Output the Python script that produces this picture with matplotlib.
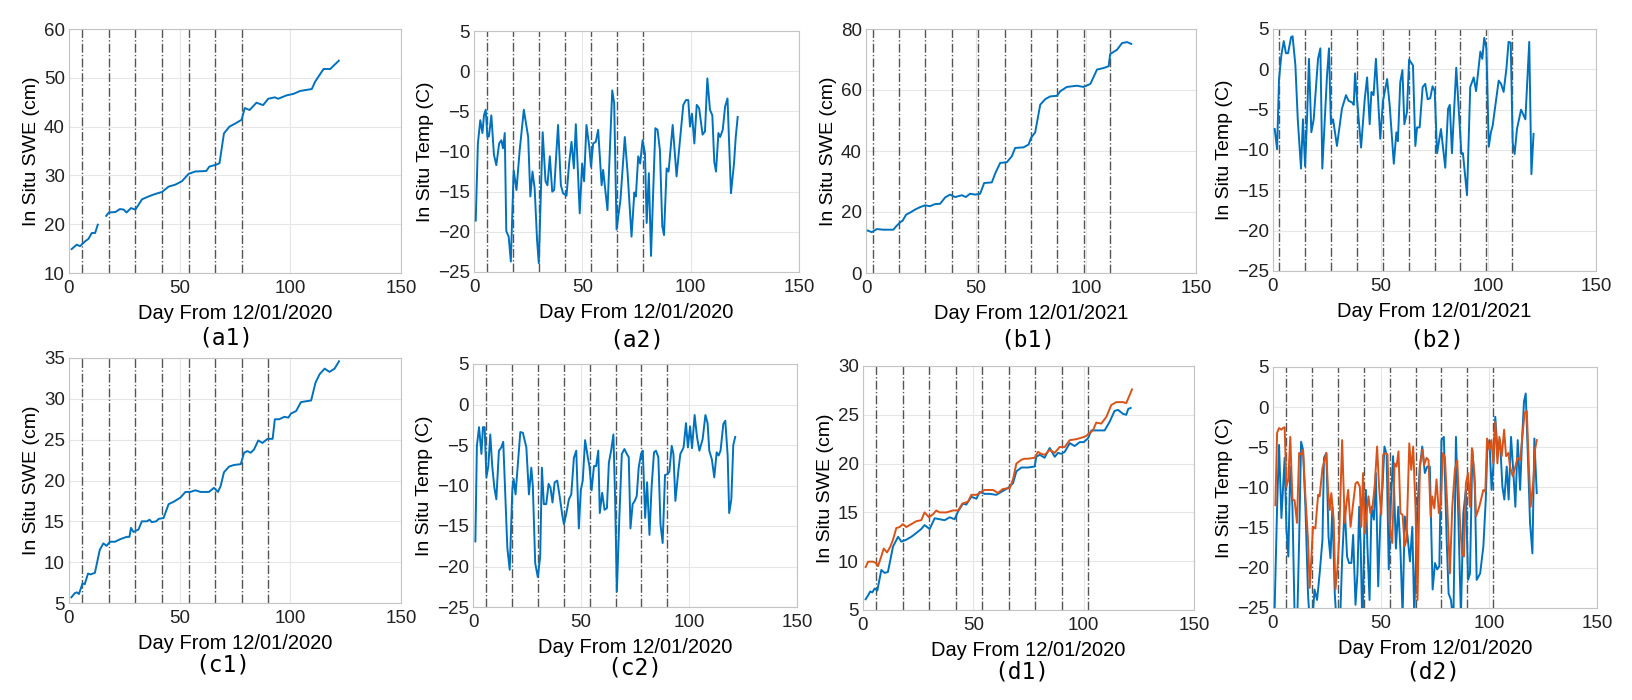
import numpy as np
import matplotlib
matplotlib.use("Agg")
import matplotlib.pyplot as plt

# ---- datos ----
a1_day = [1.2, 3.5, 5, 7.3, 8.8, 10.3, 11.8, 13, 15, 16.8, 18, 21, 23, 24.7, 26, 28, 30, 33, 36, 39, 42, 45, 48, 51,
          54, 57, 62, 63.4, 66.5, 68, 70, 72.5, 75, 78, 79.4, 81.6, 84.7, 87.7, 90, 93, 94.5, 98.3, 101.4, 104.4,
          109.7, 111.2, 115, 118, 121.9]
a1_swe = [14.9, 15.8, 15.5, 16.5, 17, 18.2, 18.2, 19.9, np.nan, 21.7, 22.4, 22.5, 23.1, 23, 22.4, 23.3, 23, 25.1,
          25.7, 26.2, 26.6, 27.7, 28.1, 28.8, 30.3, 30.8, 30.9, 31.8, 32.2, 32.5, 38.6, 40, 40.6, 41.4, 43.8, 43.4,
          44.9, 44.4, 45.7, 46, 45.7, 46.4, 46.7, 47.3, 47.7, 49.2, 51.8, 51.8, 53.5]

a2_day = [0.8, 1.8, 2.9, 3.9, 4.6, 5.4, 6.2, 6.9, 8, 9.2, 10.3, 11.6, 12.6, 13.4, 14.2, 14.9, 16, 17, 18.3, 19.6,
          21.1, 23, 25, 26, 27, 28, 29.1, 29.9, 31.7, 33, 33.9, 35, 36.1, 37, 38, 38.8, 40.1, 41.1, 42.7, 43.9, 45,
          46.1, 47, 48.8, 49.9, 50.8, 51.9, 53.2, 54, 55, 56.2, 57.3, 58.9, 59.6, 61.6, 63.8, 64.7, 65.8, 67.6,
          69.6, 70.9, 72.7, 74, 74.7, 75.8, 76.7, 77.8, 78.9, 79.7, 80.7, 81.7, 83.7, 84.7, 85.8, 86.9, 87.7, 88.9,
          89.8, 91.7, 93.5, 96.6, 97.8, 98.9, 99.7, 100.6, 101.7, 102.8, 103.9, 105.5, 106.6, 107.7, 108.9, 110,
          110.9, 111.7, 112.8, 113.6, 114.8, 115.9, 117, 118.6, 120, 120.8, 121.7]
a2_temp = [-18.6, -9.0, -6.1, -7.7, -5.5, -4.8, -8.2, -8.1, -5.5, -10.4, -11.7, -9.0, -8.6, -9.6, -7.7, -19.9,
           -20.6, -23.7, -12.3, -14.8, -9.8, -4.8, -8.2, -15.6, -12.5, -14.6, -21, -23.9, -7.6, -13.7, -14.2,
           -10.6, -15, -14.8, -10.2, -6.7, -14.2, -15.2, -15.5, -11.5, -8.8, -12.1, -6.6, -17.7, -11.5, -13.7,
           -6.7, -9.4, -11.9, -9, -8.8, -7.3, -14.2, -12.3, -17.3, -2.4, -4, -19.7, -16, -8.2, -12.7, -20.6,
           -15.1, -15.6, -10.6, -11.5, -8.6, -10.2, -18.9, -12.7, -23, -7.1, -7.3, -9.8, -19.3, -20.4, -12.1,
           -12.5, -6.7, -13.1, -4.2, -3.6, -3.6, -6.9, -5.3, -9, -4.2, -4.6, -7.9, -7.5, -0.9, -4.8, -5.5, -11.3,
           -12.5, -7.7, -8.2, -7.3, -4.4, -3.4, -15.2, -11.5, -8.2, -5.7]

b1_day = [0.8, 2.6, 4.9, 7.9, 10.9, 12.4, 13.7, 15.5, 16.7, 18.2, 20.5, 22.3, 24.6, 26.9, 29.1, 31.4, 33.7, 36,
          38.2, 40.5, 43.6, 45.4, 47.3, 49.6, 51.9, 53.7, 57.2, 58.7, 61, 64, 66.3, 67.8, 71.6, 73.9, 75, 76.9,
          79.2, 81.5, 83.7, 86.8, 88.3, 91.3, 95.9, 98.9, 102, 105, 108, 110.3, 111, 114.1, 116.4, 118.7, 120.6]
b1_swe = [13.9, 13.4, 14.4, 14.2, 14.2, 14.2, 15.3, 16.6, 17.2, 19.1, 20, 20.8, 21.6, 22.2, 21.9, 22.6, 22.7,
          24.8, 25.7, 24.9, 25.5, 24.9, 26, 25.7, 26, 29.5, 29.7, 32.6, 36.1, 36.3, 38.3, 41, 41.2, 42.1, 44.3,
          46.1, 55.2, 57, 57.9, 58.1, 59.6, 61, 61.4, 61, 62, 66.7, 67.2, 67.8, 71.8, 73.2, 75.4, 75.7, 75.1]

b2_day = [0.8, 1.9, 2.8, 3.9, 5, 6, 7, 8.4, 9.1, 10.4, 11.5, 13, 13.9, 14.9, 15.8, 16.7, 17.8, 18.9, 20.9, 22,
          22.9, 25.1, 26, 26.9, 27.9, 29.7, 32, 33.9, 35.1, 36.7, 37.5, 38.1, 39, 40.9, 42.6, 43.7, 44.9, 45.7,
          46.7, 47.8, 49.8, 51.1, 53, 54.2, 56.1, 57.3, 58, 59.1, 60.1, 61, 62.2, 63.2, 65, 66.1, 66.9, 68.1,
          69.5, 70.7, 71.8, 73, 74.1, 75.1, 76.2, 78, 80, 81.3, 82.1, 83.1, 85.1, 87.5, 88.2, 90.1, 91.6, 93.2,
          94.3, 96.3, 97.2, 98.1, 99.1, 100.2, 101.2, 102, 104.8, 105.9, 107.1, 108.4, 109.4, 110.4, 111.3, 112.2,
          113.3, 115.2, 117.2, 119, 120, 121]
b2_temp = [-7.4, -9.9, -1.2, 1.8, 3.5, 2, 2, 4, 4.1, 0.5, -6.2, -12.3, -6.2, -12, -6.2, 1.3, -7.8, -6.2, 1.3,
           2.6, -12.3, -0.7, 2.6, -6.8, -6.2, -9.5, -4.9, -3.2, -3.9, -4.1, -4.4, -0.5, -3.7, -9.7, -3.7, -1,
           -6.8, -2.8, -3.2, 1.3, -8.6, -3.9, -1.2, -4.5, -11.7, -7.8, -8.9, -1.6, -0.1, -6.8, -5.3, 1.2, 0.5,
           -9.5, -7.2, -7.2, -2.2, -1.8, -3.7, -3.6, -2.1, -2.7, -10.4, -7.4, -12.2, -4.9, -4.4, -10.4, 0.2,
           -10.5, -10.4, -15.6, -2.2, -1, -2.7, 2.2, 1.3, 3.9, 2.6, -9.6, -7.8, -7, -1.4, -1.8, -2.8, 0.1, 3.4,
           3.3, -9.1, -10.5, -7.4, -5, -6.2, 3.4, -13, -8]

c1_day = [1.1, 2.6, 3.6, 4.5, 6.1, 7.1, 8.6, 9.8, 11.7, 13.9, 15.5, 17, 18.5, 20.8, 23, 26.1, 27.3, 28, 29.1,
          31.4, 32.9, 35.2, 36.4, 37.4, 39.4, 40.5, 42.7, 45, 47.3, 50.3, 52.6, 54.8, 57.1, 59.4, 63.2, 65.5,
          67.3, 68.5, 70, 72.3, 74.5, 77.6, 79.1, 80.6, 82.1, 83.6, 85.5, 87.4, 89.7, 92, 93, 95, 97.3, 99.1,
          100.3, 102.6, 104.8, 109.4, 111.4, 113.2, 115.5, 117.7, 120, 122]
c1_swe = [5.7, 6.2, 6.3, 6.1, 7.4, 7.3, 8.6, 8.5, 8.7, 11.5, 12.3, 12, 12.5, 12.5, 12.8, 13.1, 13.1, 14.2, 13.7,
          14, 15, 15, 15.2, 14.9, 15, 15.3, 15.4, 17.1, 17.4, 17.9, 18.6, 18.6, 18.8, 18.6, 18.6, 19.1, 18.6,
          19.3, 21, 21.7, 21.9, 22, 23.4, 23.6, 23.4, 23.8, 24.9, 24.6, 25.1, 25.1, 27.5, 27.5, 27.8, 27.7, 28.2,
          28.5, 29.6, 29.8, 32, 33, 33.7, 33.3, 33.7, 34.6]

c2_day = [1.1, 1.8, 2.8, 3.9, 4.6, 5.4, 6.2, 7.1, 8, 8.9, 9.9, 10.8, 12, 13.1, 14, 15.9, 17, 18.2, 18.8, 19.7,
          21.9, 23.1, 24.7, 25.9, 27, 27.7, 28.8, 30, 31.1, 31.9, 32.8, 33.9, 35, 35.9, 36.8, 37.8, 39, 40.1,
          41.3, 42.1, 43.1, 44.4, 45.5, 46.7, 47.8, 49, 49.9, 50.8, 51.9, 53.2, 53.9, 54.9, 56, 57, 58, 58.7,
          59.8, 60.9, 62, 62.9, 64, 65, 65.8, 66.6, 67.8, 68.9, 70.1, 71.2, 72.1, 72.9, 73.9, 74.9, 75.8, 76.7,
          77.8, 78.6, 79.7, 80.6, 81.7, 82.7, 83.8, 84.7, 85.8, 86.8, 87.8, 88.9, 90.1, 90.9, 92, 92.8, 93.7,
          95.1, 96, 97.5, 98.6, 99.5, 100.5, 101.4, 102.6, 103.7, 104.8, 106.3, 107.6, 108.6, 109.4, 110.6,
          111.7, 112.8, 113.7, 114.6, 115.9, 116.8, 117.9, 118.6, 119.6, 120.5, 121.4]
c2_temp = [-16.9, -5.1, -2.8, -6.1, -2.8, -2.8, -9, -7.6, -3.7, -7.6, -10.3, -11.7, -5.7, -5.3, -4.6, -17.7,
           -20.4, -10.6, -9.2, -11.1, -3.4, -3.5, -5.3, -11.1, -7.8, -10.1, -19.6, -21.3, -18.8, -7.8, -12.3,
           -12.3, -9.8, -10.3, -12.1, -9.6, -9.4, -11.3, -13.6, -14.8, -13.6, -11.7, -11.1, -6.6, -5.7, -15.3,
           -10.6, -9.4, -4.4, -6.6, -7.6, -10.6, -7.6, -7.6, -5.7, -13.4, -10.9, -13, -12.8, -7.2, -5.6, -3.7,
           -11.7, -23.1, -13.6, -6.1, -5.5, -6.1, -6.5, -15.3, -12.3, -11.9, -11.3, -7.8, -6.1, -5.7, -14, -9.6,
           -16.1, -10.1, -5.9, -5.7, -6.5, -14.8, -17.1, -8.7, -8.6, -8.3, -5.1, -6.1, -11.9, -8.1, -6.1, -5.3,
           -2.3, -5.3, -2.7, -5.4, -1.3, -4, -5.7, -4.3, -1.3, -2.3, -5.7, -6.8, -9, -5.9, -6.3, -5.7, -2.4, -2,
           -6.3, -13.4, -11.7, -5, -4]

d1_day_obs = [1.2, 2.3, 3.3, 4.2, 5.3, 6.5, 8.3, 9.8, 11.3, 13.6, 15.9, 17.4, 19.6, 21.9, 24.2, 26.4, 27.9,
              30.2, 32.5, 34.7, 37, 39.3, 41.5, 43.1, 45.3, 46.8, 49.1, 51.4, 52.9, 55.1, 57.4, 60.4, 63.4, 65.7,
              68, 69.5, 71.8, 74.8, 77.8, 78.5, 80.1, 82.3, 84.6, 86.9, 88.4, 89.9, 91.4, 93.7, 95.9, 98.2, 100,
              102, 103.5, 106.5, 109.5, 111.8, 114, 115.6, 117.8, 119.3, 120.2, 121.3]
d1_swe_obs = [6.1, 6.5, 6.9, 6.8, 7.2, 7, 9.1, 8.8, 8.9, 11.5, 12.5, 12, 12.2, 12.5, 12.9, 13.3, 13.7, 13.3,
              14.4, 14.3, 14.2, 14.5, 14.3, 15.1, 15.9, 15.8, 16.6, 16.4, 17.1, 16.9, 16.9, 16.8, 17.2, 17.5, 18,
              19.2, 19.6, 19.6, 19.7, 20.7, 20.9, 20.6, 21.6, 20.7, 21.1, 21, 21.2, 22.1, 21.8, 22.2, 22.2, 22.6,
              23.4, 23.4, 23.4, 24.3, 25.4, 25.5, 25.1, 25, 25.6, 25.7]
d1_day_est = [1.2, 2.3, 4.5, 6, 6.8, 8.3, 9.4, 10.9, 12.4, 13.6, 15.1, 16.6, 18.1, 19.6, 21.9, 24.2, 26.4, 27.9,
              29.9, 31.7, 33.2, 34.7, 37.8, 40.8, 43.1, 45, 47.6, 49.1, 51.4, 52.9, 55.1, 58.9, 61.2, 63.4, 66.5,
              68, 69.5, 71.8, 73.3, 74.8, 77.8, 79.3, 80.8, 82.3, 84.6, 86.9, 89.1, 91.4, 93.7, 96.7, 99.7, 100.9,
              102, 104.2, 105.7, 108, 110.3, 112.5, 114.8, 117.8, 119.3, 120.8, 121.9]
d1_swe_est = [9.4, 9.95, 9.95, 9.8, 9.5, 10.5, 11.3, 10.9, 11.5, 12.2, 13.4, 13.5, 13.8, 13.5, 13.8, 14.1, 14.2,
              15, 14.5, 14.8, 15.2, 15, 15, 15.2, 15.2, 15.9, 16.1, 16.8, 16.8, 17, 17.3, 17.3, 17, 17.4, 17.5,
              18.4, 20, 20.4, 20.5, 20.5, 20.6, 21.2, 21, 20.9, 21.4, 21.1, 21.7, 21.7, 22.4, 22.5, 22.7, 22.8, 23,
              23.4, 24.2, 24.1, 24.8, 26, 26.3, 26.3, 26.2, 27, 27.6]

d2_day_obs = [0.5, 1.9, 2.8, 3.9, 4.6, 5.4, 6.2, 7.1, 8, 9, 10, 11.1, 12.1, 13, 13.9, 15, 16.2, 17.3, 18.2, 19.2,
              20.4, 21.6, 22.9, 23.6, 24.7, 25.7, 26.6, 27.5, 28.6, 29.7, 30.9, 32, 33.2, 34.3, 35.2, 36.3, 37.1,
              38.2, 39.1, 39.9, 40.6, 41.4, 42.2, 43, 43.7, 44.7, 45.6, 46.7, 47.6, 48.7, 49.8, 50.7, 51.6, 52.6,
              53.6, 54.6, 55.6, 56.9, 58, 59, 60, 61, 62.3, 63.4, 64.5, 65.4, 66.8, 68, 69.1, 70.3, 71.4, 72.6,
              73.9, 75, 76, 77, 78, 79.1, 80.4, 81.3, 82.4, 83.5, 84.7, 85.8, 87, 88.1, 89.3, 90.3, 91.2, 92.3,
              93.4, 94.3, 95.9, 97.4, 98.5, 99.2, 100.2, 101.2, 102, 102.9, 104, 105.1, 106.2, 107.1, 108.2, 109.1,
              110.2, 111.3, 112.2, 113.3, 114.4, 115.3, 116.2, 117, 117.9, 119, 120.1, 121, 122.1]
d2_temp_obs = [-28, -12.4, -4.7, -13.8, -10.3, -6.3, -15.1, -18.6, -7.4, -12.4, -26, -28, -16.5, -4.3, -5.3,
               -12.4, -23.2, -28, -27, -22.7, -24, -20.7, -16.5, -6.3, -5.7, -16.1, -18.8, -12.4, -23.2, -28, -28,
               -19, -12.4, -18.6, -19.4, -19.4, -15.9, -24.6, -20.7, -12.4, -17.3, -28, -16.5, -10.3, -17.3, -24,
               -12.4, -14, -8.2, -22.3, -13.2, -9.9, -4.9, -5.9, -20.2, -11.5, -6.1, -17.6, -12.4, -17.8, -26,
               -13.6, -16.1, -19.2, -14.9, -26, -12.8, -7.4, -4.9, -8.2, -7.4, -7.4, -22.7, -19.4, -20.2, -19.8,
               -4.1, -3.7, -16.5, -23.2, -24, -27, -3.7, -13.6, -26, -13.2, -10.3, -21.5, -20.7, -5.3, -9.5, -21.5,
               -20.7, -17.3, -11.5, -5.3, -4.1, -10.3, -7.4, -1.2, -5.7, -4.1, -9.9, -11.5, -7.4, -11.5, -3.7,
               -8.2, -12.4, -4.1, -10.3, -4.1, 0.7, 1.7, -5.3, -14.4, -18.2, -3.9, -10.7]
d2_day_est = [1.1, 1.9, 2.8, 3.9, 4.6, 5.4, 6.2, 7.1, 8, 9, 10, 11.1, 12.1, 13.1, 13.9, 15, 16.2, 17, 17.8, 18.5,
              19.6, 20.9, 21.6, 22.9, 24.7, 25.5, 26.3, 27, 28.1, 28.9, 29.8, 30.6, 32, 33.2, 34, 34.8, 35.9, 37.1,
              38.2, 39.1, 40.2, 40.9, 41.7, 42.5, 43.3, 44.2, 45.1, 46.1, 47.1, 48.2, 49.1, 50.1, 51, 52.1, 53,
              54.1, 55.2, 56.3, 57.2, 58.1, 59, 60, 61, 61.8, 63.1, 64, 64.9, 66, 66.9, 68, 69.2, 70, 71.1, 72, 73,
              73.7, 74.7, 75.7, 76.8, 77.7, 78.7, 79.6, 80.7, 81.9, 83, 84.2, 85.3, 86.6, 87.5, 88.4, 89.3, 90.3,
              91.2, 92.1, 93.2, 94, 95.5, 97.4, 98.3, 99.1, 100.2, 101.1, 102, 102.9, 103.9, 104.8, 105.9, 107,
              107.9, 109, 109.7, 111, 112.2, 113.2, 114.4, 115.6, 116.5, 117.5, 118.4, 119.3, 120.6, 121.3, 122.1]
d2_temp_est = [-12.2, -3.2, -2.6, -2.8, -2.6, -2.5, -9.9, -9, -3.7, -11.5, -11.6, -14.4, -5.7, -5.9, -5.3, -11.1,
               -16.5, -22.5, -18.6, -14.9, -15.1, -10.9, -11.1, -7.6, -5.7, -10.5, -12.8, -10.7, -14, -22.7, -20.2,
               -16.5, -4.1, -14.4, -12, -10.3, -14.9, -12, -9.5, -9.3, -9.9, -14.9, -8.2, -15.7, -13.2, -11.1,
               -13.2, -12.4, -9.7, -4.9, -9.9, -13.4, -5.9, -5.7, -5.9, -14.9, -16.9, -7, -7.4, -5.5, -13.2, -13.4,
               -17.3, -16.5, -4.5, -7.8, -4.9, -12.8, -24, -7.4, -5.3, -7.2, -6.3, -6.6, -13.6, -11.1, -12.6, -9,
               -13.2, -12, -5.7, -6.3, -12.4, -20.7, -12.4, -7.8, -6.6, -14.4, -18.2, -18.6, -9.5, -8.2, -12.4,
               -5.1, -8.2, -13.6, -12.4, -10.3, -10.5, -3.9, -5.3, -4.1, -7, -1.8, -7, -3.7, -6.1, -2.8, -6.1, -5.7,
               -7.4, -8.6, -7.4, -6.3, -6.6, -3.2, -0.7, -0.5, -7, -12.4, -9, -5.3, -4.1]

# fechas de adquisicion (lineas verticales)
dias_2020_a = [6, 18, 30, 42, 54, 66, 78]
dias_2021 = [3, 15, 27, 39, 51, 63, 75, 87, 99, 111]
dias_2020_c = [6, 18, 30, 42, 54, 66, 78, 90]
dias_2020_d = [6, 18, 30, 42, 54, 66, 78, 90, 102]

AZUL = "#0072BD"
NARANJA = "#D95319"
W, H = 1632, 700

plt.rcParams["font.family"] = ["Liberation Sans", "DejaVu Sans"]

fig = plt.figure(figsize=(W / 100, H / 100), dpi=100)


def crear_ejes(izq, der, arriba, abajo):
    return fig.add_axes([izq / W, 1 - abajo / H, (der - izq) / W, (abajo - arriba) / H])


def estilo(ax, ylim, yticks, ylabel, xlabel, fechas):
    for d in fechas:
        ax.axvline(d, color="#555555", linestyle="-.", linewidth=1.0, zorder=1)
    ax.set_xlim(0, 150)
    ax.set_xticks([0, 50, 100, 150])
    ax.set_ylim(*ylim)
    ax.set_yticks(yticks)
    ax.grid(True, color="#E6E6E6", linewidth=0.8, zorder=0)
    ax.set_axisbelow(True)
    for s in ax.spines.values():
        s.set_color("#C4C4C4")
        s.set_linewidth(0.8)
    ax.tick_params(length=0, labelsize=13.5, colors="#222222")
    ax.tick_params(axis="x", pad=5)
    ax.tick_params(axis="y", pad=3)
    ax.set_ylabel(ylabel, fontsize=14, labelpad=3)
    ax.set_xlabel(xlabel, fontsize=14.5, labelpad=5)


paneles = [
    # (posicion, datos, ylim, yticks, ylabel, xlabel, fechas, caption, caption pos)
    ((69, 401, 29, 273), [(a1_day, a1_swe, AZUL)], (10, 60), range(10, 61, 10),
     "In Situ SWE (cm)", "Day From 12/01/2020", dias_2020_a, "(a1)", (226, 338)),
    ((474, 799, 31, 272), [(a2_day, a2_temp, AZUL)], (-25, 5), range(-25, 6, 5),
     "In Situ Temp (C)", "Day From 12/01/2020", dias_2020_a, "(a2)", (637, 340)),
    ((866, 1196, 29, 273), [(b1_day, b1_swe, AZUL)], (0, 80), range(0, 81, 20),
     "In Situ SWE (cm)", "Day From 12/01/2021", dias_2021, "(b1)", (1028, 340)),
    ((1273, 1596, 29, 271), [(b2_day, b2_temp, AZUL)], (-25, 5), range(-25, 6, 5),
     "In Situ Temp (C)", "Day From 12/01/2021", dias_2021, "(b2)", (1437, 340)),
    ((69, 401, 358, 603), [(c1_day, c1_swe, AZUL)], (5, 35), range(5, 36, 5),
     "In Situ SWE (cm)", "Day From 12/01/2020", dias_2020_c, "(c1)", (223, 665)),
    ((473, 797, 364, 607), [(c2_day, c2_temp, AZUL)], (-25, 5), range(-25, 6, 5),
     "In Situ Temp (C)", "Day From 12/01/2020", dias_2020_c, "(c2)", (635, 668)),
    ((863, 1194, 366, 610), [(d1_day_obs, d1_swe_obs, AZUL), (d1_day_est, d1_swe_est, NARANJA)], (5, 30),
     range(5, 31, 5), "In Situ SWE (cm)", "Day From 12/01/2020", dias_2020_d, "(d1)", (1022, 672)),
    ((1273, 1597, 367, 608), [(d2_day_obs, d2_temp_obs, AZUL), (d2_day_est, d2_temp_est, NARANJA)], (-25, 5),
     range(-25, 6, 5), "In Situ Temp (C)", "Day From 12/01/2020", dias_2020_d, "(d2)", (1433, 672)),
]

for pos, series, ylim, yticks, ylabel, xlabel, fechas, cap, cap_pos in paneles:
    ax = crear_ejes(*pos)
    for x, y, color in series:
        ax.plot(x, y, color=color, linewidth=1.4, zorder=3)
    estilo(ax, ylim, list(yticks), ylabel, xlabel, fechas)
    fig.text(cap_pos[0] / W, 1 - cap_pos[1] / H, cap, family="DejaVu Sans Mono", fontsize=16.5,
             ha="center", va="center")

fig.savefig("out.png", dpi=100)
